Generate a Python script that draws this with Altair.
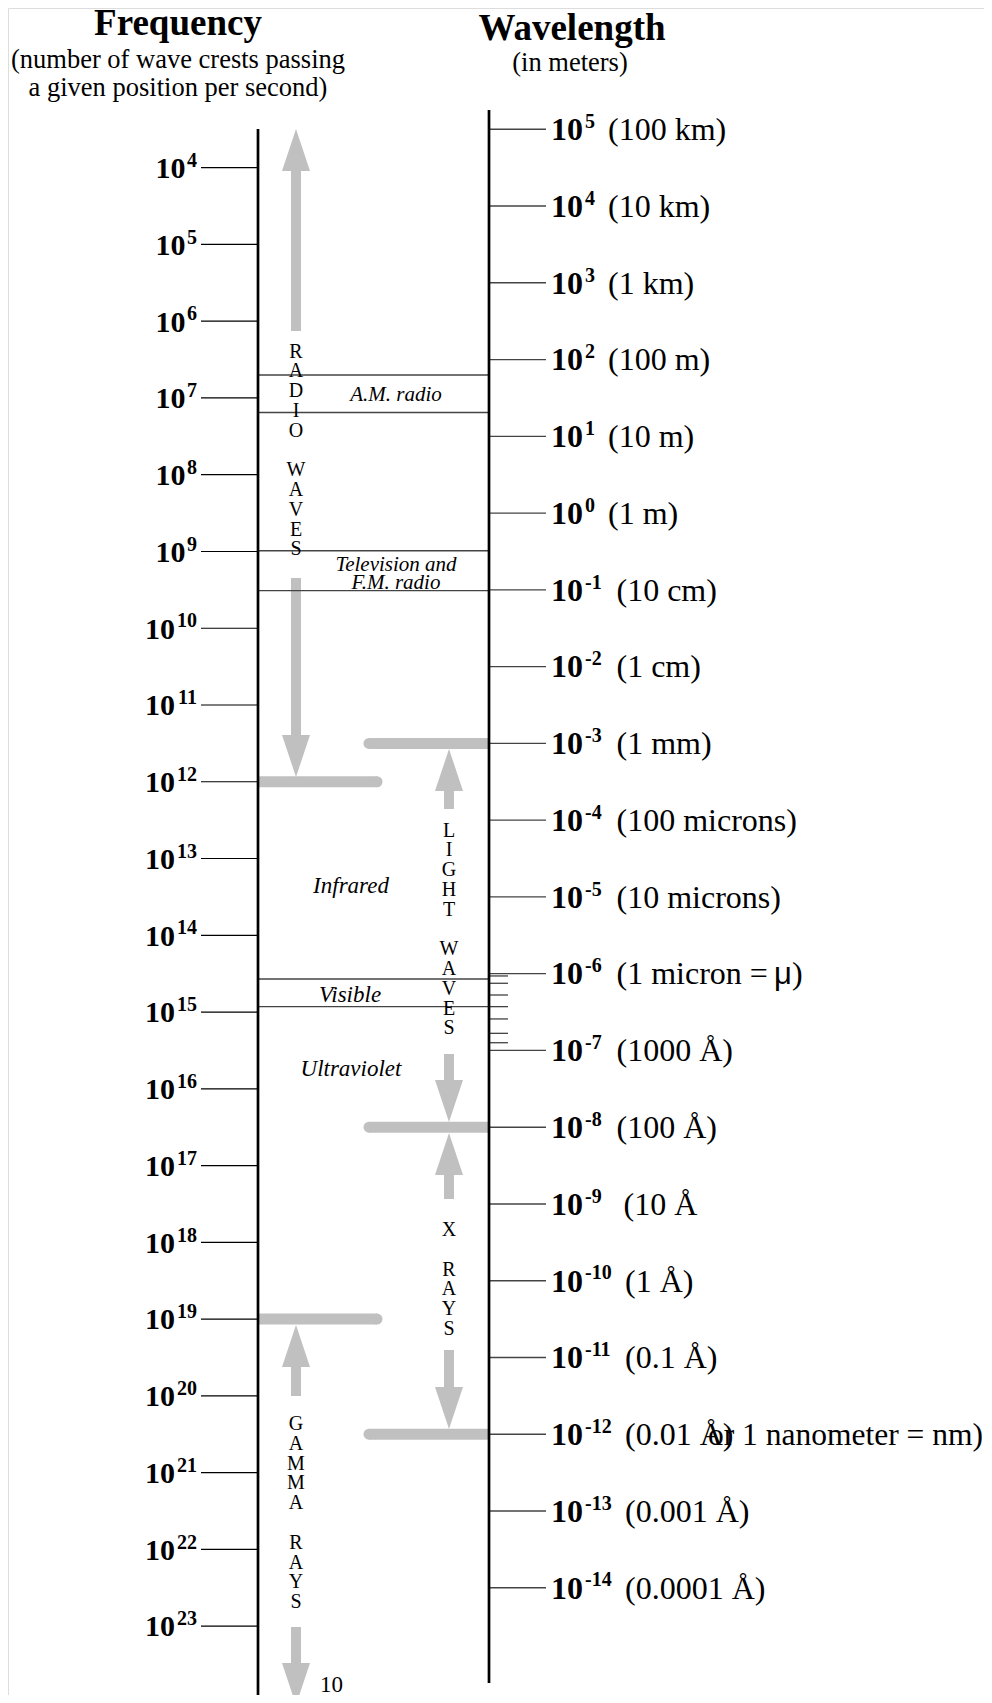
import altair as alt
import pandas as pd

# ------------------------------------------------------------------ data
freq_exponents = list(range(4, 24))            # 10^4 ... 10^23 (per second)
wave_exponents = list(range(5, -15, -1))       # 10^5 ... 10^-14 (meters)
wave_notes = ["(100 km)", "(10 km)", "(1 km)", "(100 m)", "(10 m)", "(1 m)",
              "(10 cm)", "(1 cm)", "(1 mm)", "(100 microns)", "(10 microns)",
              "(1 micron =", "(1000 Å)", "(100 Å)", "(10 Å", "(1 Å)",
              "(0.1 Å)", "(0.01 Å)", "(0.001 Å)", "(0.0001 Å)"]
FREQ_OFFSET = 8.5   # on this chart: log10(wavelength) = 8.5 - log10(frequency)

band_labels = ["A.M. radio", "Television and", "F.M. radio", "Visible"]
band_upper = [1.80, -0.49, -6.07]     # log10 wavelength
band_lower = [1.31, -1.01, -6.43]

region_names = ["Infrared", "Ultraviolet"]
region_center = [-4.86, -7.24]

visible_ticks = [-6.03, -6.125, -6.278, -6.43, -6.59, -6.777, -6.90]

spectrum_words = [["RADIO", "WAVES"], ["LIGHT", "WAVES"], ["X", "RAYS"], ["GAMMA", "RAYS"]]

radio_end = FREQ_OFFSET - 12      # 10^12 Hz
light_start = -3                  # 1 mm
light_end = -8                    # 100 Å
xray_end = -12
gamma_start = FREQ_OFFSET - 19    # 10^19 Hz

# ------------------------------------------------------------------ layout
W, H, M = 976, 1687, 8
PPD = 76.76                        # pixels per decade
REF_PIX, REF_LOG = 129.3, 5.0


def to_log(py):
    return REF_LOG - (py - REF_PIX) / PPD


y_domain = [to_log(M + H), to_log(M)]
xs = alt.Scale(domain=[M, M + W], nice=False, zero=False)
ys = alt.Scale(domain=y_domain, nice=False, zero=False)

LEFT_X, RIGHT_X = 258, 489
GRAY = "#c0c0c0"
SERIF = "Liberation Serif"
LINE_H = 19.8


def X(f="x"):
    return alt.X(f"{f}:Q", scale=xs, axis=None)


def Y(f="y"):
    return alt.Y(f"{f}:Q", scale=ys, axis=None)


# axis lines
axes_df = pd.DataFrame({"x": [LEFT_X, RIGHT_X],
                        "y": [to_log(129), to_log(110)],
                        "y2": [y_domain[0] - 1, to_log(1683)]})
axes_layer = alt.Chart(axes_df).mark_rule(color="black", strokeWidth=2.7).encode(
    x=X(), y=Y(), y2="y2:Q")

# ticks
lt = pd.DataFrame({"y": [FREQ_OFFSET - n for n in freq_exponents]})
lt["x"], lt["x2"] = 201, LEFT_X
left_ticks = alt.Chart(lt).mark_rule(color="black", strokeWidth=1.2).encode(
    x=X(), x2="x2:Q", y=Y())

rt = pd.DataFrame({"y": [float(n) for n in wave_exponents]})
rt["x"], rt["x2"] = RIGHT_X, 546
right_ticks = alt.Chart(rt).mark_rule(color="#444", strokeWidth=1.4).encode(
    x=X(), x2="x2:Q", y=Y())

vt = pd.DataFrame({"y": visible_ticks})
vt["x"], vt["x2"] = RIGHT_X, 508
vis_ticks = alt.Chart(vt).mark_rule(color="#333", strokeWidth=1.2).encode(
    x=X(), x2="x2:Q", y=Y())

# band lines
bl = pd.DataFrame({"y": band_upper + band_lower})
bl["x"], bl["x2"] = LEFT_X, RIGHT_X
band_lines = alt.Chart(bl).mark_rule(color="#444", strokeWidth=1.4).encode(
    x=X(), x2="x2:Q", y=Y())

# gray division bars (square at axis, round at free end)
bars = pd.DataFrame({
    "y": [radio_end, gamma_start, light_start, light_end, xray_end],
    "x": [LEFT_X, LEFT_X, 369, 369, 369],
    "x2": [377, 377, RIGHT_X, RIGHT_X, RIGHT_X],
    "cap": [377, 377, 369, 369, 369],
})
bar_layer = alt.Chart(bars).mark_rule(color=GRAY, strokeWidth=11).encode(
    x=X(), x2="x2:Q", y=Y())
cap_layer = alt.Chart(bars).mark_point(filled=True, color=GRAY, opacity=1,
                                       size=121, shape="circle", strokeWidth=0).encode(
    x=X("cap"), y=Y())

# arrows: (x, tip pixel, tail pixel)
HEAD = 42
arrows = [(296, 129, 331), (296, 777, 578), (449, 749, 809), (449, 1122, 1054),
          (449, 1133, 1199), (449, 1429, 1350), (296, 1325, 1396), (296, 1705, 1627)]
rows = []
for ax, tip, tail in arrows:
    up = tail > tip
    base = tip + HEAD if up else tip - HEAD
    rows.append({"x": ax, "ys": to_log(base + (-1 if up else 1)), "ye": to_log(tail),
                 "yh": to_log((tip + base) / 2),
                 "shape": "M0,-1L0.667,1L-0.667,1Z" if up else "M0,1L0.667,-1L-0.667,-1Z"})
ar = pd.DataFrame(rows)
shafts = alt.Chart(ar).mark_rule(color=GRAY, strokeWidth=10).encode(
    x=X(), y=Y("ys"), y2="ye:Q")
heads = alt.Chart(ar).mark_point(filled=True, color=GRAY, opacity=1, size=HEAD * HEAD,
                                 strokeWidth=0).encode(
    x=X(), y=Y("yh"), shape=alt.Shape("shape:N", scale=None))


def text_layer(df, **kw):
    base = dict(font=SERIF, color="black", baseline="alphabetic")
    base.update(kw)
    return alt.Chart(df).mark_text(**base).encode(x=X(), y=Y(), text="t:N")


# left axis labels
ll = pd.DataFrame({"n": freq_exponents})
ll["y"] = FREQ_OFFSET - ll["n"]
ll["sup"] = ll["n"].astype(str)
lb = pd.DataFrame({"t": "10", "y": ll["y"], "x": 197 - 10.5 * ll["sup"].str.len() - 1})
ls = pd.DataFrame({"t": ll["sup"], "y": ll["y"], "x": 197})
left_base = text_layer(lb, fontSize=30, fontWeight="bold", align="right", dy=10.3)
left_sup = text_layer(ls, fontSize=20, fontWeight="bold", align="right", dy=-0.8)

# right axis labels
rl = pd.DataFrame({"n": wave_exponents, "note": wave_notes})
rl["y"] = rl["n"].astype(float)
rl["sup"] = rl["n"].astype(str)
rb = pd.DataFrame({"t": "10", "y": rl["y"], "x": 551})
rs = pd.DataFrame({"t": rl["sup"], "y": rl["y"], "x": 585})
note_x = 608 + (rl["sup"].str.len() - 1) * 8.5 + (rl["n"] == -9) * 7
rn = pd.DataFrame({"t": rl["note"], "y": rl["y"], "x": note_x})
right_base = text_layer(rb, fontSize=32, fontWeight="bold", align="left", dy=10.8)
right_sup = text_layer(rs, fontSize=20, fontWeight="bold", align="left", dy=-1.3)
right_note = text_layer(rn, fontSize=32, align="left", dy=10.8)

micron_close = text_layer(pd.DataFrame({"t": [")"], "x": [792], "y": [-6.0]}),
                          fontSize=32, align="left", dy=10.8)
micron_mu = text_layer(pd.DataFrame({"t": ["μ"], "x": [774], "y": [-6.0]}),
                       fontSize=31, align="left", dy=10.8, font="Liberation Sans")
nano = text_layer(pd.DataFrame({"t": ["or 1 nanometer = nm)"], "x": [708], "y": [-12.0]}),
                  fontSize=31.5, align="left", dy=10.8)

# band and region labels
bd = pd.DataFrame({"t": band_labels,
                   "y": [to_log(395), to_log(565), to_log(583), to_log(995)],
                   "x": [396, 396, 396, 350]})
band_a = text_layer(bd.iloc[:3], fontSize=21, fontStyle="italic", align="center",
                    baseline="middle")
band_b = text_layer(bd.iloc[3:], fontSize=23, fontStyle="italic", align="center",
                    baseline="middle")
rg = pd.DataFrame({"t": region_names, "y": region_center, "x": 351})
region_layer = text_layer(rg, fontSize=23, fontStyle="italic", align="center",
                          baseline="middle")

# stacked spectrum names: one vertical column of letters per word
stack_x = [296, 449, 449, 296]
stack_top = [357.5, 836.5, 1236, 1430]     # baseline of first letter (pixels)
srows = []
for words, sx, top in zip(spectrum_words, stack_x, stack_top):
    first, second = words
    srows.append({"t": "\n".join(first), "x": sx, "y": to_log(top)})
    srows.append({"t": "\n".join(second), "x": sx,
                  "y": to_log(top + (len(first) + 1) * LINE_H)})
stack_layer = text_layer(pd.DataFrame(srows), fontSize=20, align="center",
                         lineBreak="\n", lineHeight=LINE_H)

# headings
h1 = pd.DataFrame({"t": ["Frequency", "Wavelength"], "x": [178, 572],
                   "y": [to_log(35), to_log(40)]})
h2 = pd.DataFrame({"t": ["(number of wave crests passing", "a given position per second)",
                         "(in meters)"],
                   "x": [178, 178, 570], "y": [to_log(68), to_log(96), to_log(71)]})
head1 = text_layer(h1, fontSize=37, fontWeight="bold", align="center")
head2 = text_layer(h2, fontSize=26.5, align="center")
bottom_ten = text_layer(pd.DataFrame({"t": ["10"], "x": [320], "y": [to_log(1685)]}),
                        fontSize=23, align="left", baseline="middle")

chart = alt.layer(
    bar_layer, cap_layer, shafts, heads,
    band_lines, vis_ticks, left_ticks, right_ticks, axes_layer,
    left_base, left_sup, right_base, right_sup, right_note,
    micron_mu, micron_close, nano,
    band_a, band_b, region_layer, stack_layer, head1, head2, bottom_ten,
).properties(width=W, height=H, padding=0, autosize="none").configure_view(
    strokeWidth=0).configure(background="white")

chart.save("out.html", embed_options={"renderer": "svg", "actions": False})
